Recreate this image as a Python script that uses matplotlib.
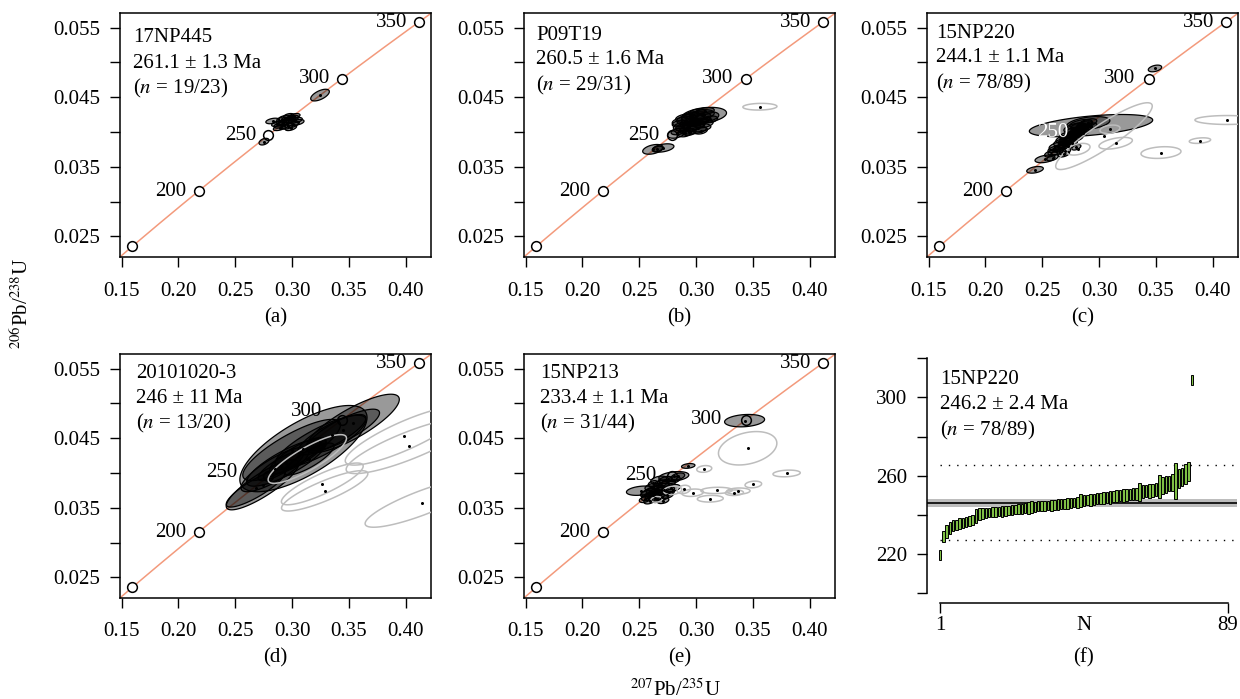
import numpy as np
import matplotlib
matplotlib.use('Agg')
import matplotlib.pyplot as plt
from matplotlib.patches import Polygon

plt.rcParams['font.family'] = ['Liberation Serif', 'DejaVu Serif']
plt.rcParams['mathtext.fontset'] = 'stix'

# concordia ages (Ma)
marker_ages = [150, 200, 250, 300, 350]
label_ages = [200, 250, 300, 350]
LAMBDA_238 = 1.55125e-10
LAMBDA_235 = 9.8485e-10

# ellipses: (207Pb/235U, half-width, 206Pb/238U, half-height, rho)
a_ok = [
    (0.3246, 0.0082, 0.04530, 0.00084, 0.6),
    (0.2753, 0.0044, 0.03861, 0.00048, 0.4),
    (0.2829, 0.0060, 0.04158, 0.00040, 0.4),
    (0.2900, 0.0060, 0.04100, 0.00045, 0.5),
    (0.2950, 0.0065, 0.04150, 0.00050, 0.5),
    (0.2980, 0.0055, 0.04180, 0.00045, 0.5),
    (0.3000, 0.0060, 0.04200, 0.00040, 0.4),
    (0.3030, 0.0060, 0.04170, 0.00040, 0.4),
    (0.2920, 0.0050, 0.04130, 0.00045, 0.5),
    (0.2960, 0.0050, 0.04080, 0.00040, 0.5),
    (0.3010, 0.0050, 0.04110, 0.00045, 0.5),
    (0.2890, 0.0055, 0.04060, 0.00040, 0.5),
    (0.2940, 0.0060, 0.04200, 0.00040, 0.4),
    (0.3050, 0.0055, 0.04140, 0.00040, 0.4),
    (0.2990, 0.0050, 0.04060, 0.00040, 0.5),
    (0.2970, 0.0045, 0.04230, 0.00035, 0.4),
    (0.3020, 0.0050, 0.04230, 0.00035, 0.4),
    (0.2910, 0.0045, 0.04180, 0.00035, 0.4),
    (0.2870, 0.0050, 0.04120, 0.00040, 0.5),
]
a_rej = []

b_ok = [
    (0.2620, 0.0090, 0.03750, 0.00070, 0.4),
    (0.2710, 0.0095, 0.03770, 0.00060, 0.4),
    (0.2660, 0.0045, 0.03755, 0.00040, 0.4),
    (0.2829, 0.0080, 0.03980, 0.00070, 0.4),
    (0.2850, 0.0070, 0.04010, 0.00050, 0.4),
    (0.3070, 0.0198, 0.04239, 0.00115, 0.3),
    (0.2950, 0.0120, 0.04180, 0.00080, 0.3),
    (0.2900, 0.0110, 0.04150, 0.00070, 0.3),
    (0.3000, 0.0130, 0.04200, 0.00090, 0.3),
    (0.3050, 0.0110, 0.04250, 0.00070, 0.3),
    (0.3100, 0.0100, 0.04220, 0.00070, 0.3),
    (0.2980, 0.0100, 0.04100, 0.00070, 0.3),
    (0.2930, 0.0110, 0.04070, 0.00070, 0.3),
    (0.3020, 0.0110, 0.04060, 0.00060, 0.3),
    (0.2880, 0.0080, 0.04080, 0.00060, 0.3),
    (0.2970, 0.0120, 0.04030, 0.00060, 0.3),
    (0.3060, 0.0090, 0.04120, 0.00060, 0.3),
    (0.2910, 0.0090, 0.04200, 0.00060, 0.3),
    (0.3030, 0.0080, 0.04150, 0.00050, 0.3),
    (0.2960, 0.0070, 0.04240, 0.00050, 0.3),
    (0.2860, 0.0070, 0.04120, 0.00050, 0.3),
    (0.3080, 0.0080, 0.04300, 0.00050, 0.3),
    (0.2990, 0.0060, 0.04120, 0.00045, 0.3),
    (0.2940, 0.0060, 0.04000, 0.00050, 0.3),
    (0.3120, 0.0070, 0.04180, 0.00050, 0.3),
    (0.3010, 0.0070, 0.04280, 0.00050, 0.3),
    (0.2900, 0.0060, 0.03980, 0.00050, 0.3),
    (0.3040, 0.0060, 0.04020, 0.00050, 0.3),
    (0.2970, 0.0050, 0.04160, 0.00040, 0.3),
]
b_rej = [
    (0.3562, 0.0150, 0.04363, 0.00048, 0.1),
]

c_ok = [
    (0.2929, 0.0543, 0.04091, 0.00160, 0.5),
    (0.2905, 0.0190, 0.04125, 0.00096, 0.4),
    (0.3492, 0.0059, 0.04913, 0.00048, 0.4),
    (0.2436, 0.0073, 0.03456, 0.00048, 0.4),
    (0.2524, 0.0088, 0.03613, 0.00055, 0.4),
    (0.2580, 0.0060, 0.03690, 0.00050, 0.5),
    (0.2620, 0.0070, 0.03720, 0.00055, 0.5),
    (0.2600, 0.0050, 0.03750, 0.00045, 0.5),
    (0.2650, 0.0060, 0.03760, 0.00050, 0.5),
    (0.2640, 0.0080, 0.03800, 0.00060, 0.5),
    (0.2680, 0.0070, 0.03790, 0.00050, 0.5),
    (0.2700, 0.0060, 0.03830, 0.00050, 0.5),
    (0.2660, 0.0060, 0.03850, 0.00050, 0.5),
    (0.2720, 0.0080, 0.03870, 0.00060, 0.5),
    (0.2690, 0.0070, 0.03900, 0.00055, 0.5),
    (0.2740, 0.0060, 0.03880, 0.00050, 0.5),
    (0.2750, 0.0090, 0.03930, 0.00060, 0.5),
    (0.2710, 0.0060, 0.03950, 0.00050, 0.5),
    (0.2770, 0.0070, 0.03960, 0.00050, 0.5),
    (0.2780, 0.0080, 0.03910, 0.00060, 0.5),
    (0.2800, 0.0070, 0.03990, 0.00050, 0.5),
    (0.2760, 0.0060, 0.04010, 0.00050, 0.5),
    (0.2820, 0.0080, 0.04020, 0.00060, 0.5),
    (0.2830, 0.0060, 0.03970, 0.00050, 0.5),
    (0.2850, 0.0070, 0.04060, 0.00050, 0.5),
    (0.2810, 0.0060, 0.04080, 0.00050, 0.5),
    (0.2870, 0.0070, 0.04100, 0.00060, 0.5),
    (0.2880, 0.0060, 0.04040, 0.00050, 0.5),
    (0.2900, 0.0080, 0.04130, 0.00060, 0.5),
    (0.2840, 0.0100, 0.04120, 0.00060, 0.5),
    (0.2920, 0.0060, 0.04080, 0.00050, 0.5),
    (0.2790, 0.0100, 0.04060, 0.00070, 0.5),
    (0.2730, 0.0050, 0.03800, 0.00045, 0.5),
    (0.2760, 0.0050, 0.03840, 0.00045, 0.5),
    (0.2800, 0.0040, 0.03780, 0.00040, 0.5),
    (0.2700, 0.0050, 0.03720, 0.00045, 0.5),
    (0.2590, 0.0050, 0.03630, 0.00045, 0.5),
    (0.2690, 0.0050, 0.03680, 0.00040, 0.5),
    (0.2860, 0.0050, 0.03990, 0.00045, 0.5),
]
c_rej = [
    (0.4129, 0.0285, 0.04172, 0.00064, 0.0),
    (0.3888, 0.0094, 0.03876, 0.00040, 0.3),
    (0.3545, 0.0176, 0.03704, 0.00084, 0.2),
    (0.3146, 0.0147, 0.03838, 0.00084, 0.5),
    (0.3043, 0.0425, 0.03940, 0.00480, 0.9),
    (0.2817, 0.0103, 0.03752, 0.00084, 0.4),
    (0.3096, 0.0088, 0.04039, 0.00060, 0.3),
]

d_ok = [
    (0.3533, 0.0411, 0.04712, 0.0042, 0.82),
    (0.2740, 0.0320, 0.03830, 0.0036, 0.85),
    (0.3100, 0.0560, 0.04350, 0.0062, 0.72),
    (0.2996, 0.0430, 0.04330, 0.0044, 0.82),
    (0.2950, 0.0350, 0.04150, 0.0034, 0.82),
    (0.3250, 0.0400, 0.04450, 0.0038, 0.82),
    (0.2850, 0.0300, 0.04050, 0.0032, 0.82),
    (0.3350, 0.0300, 0.04550, 0.0029, 0.82),
    (0.3050, 0.0250, 0.04250, 0.0026, 0.82),
    (0.2680, 0.0260, 0.03780, 0.0027, 0.85),
    (0.3450, 0.0320, 0.04617, 0.0030, 0.82),
    (0.2900, 0.0200, 0.04100, 0.0021, 0.82),
    (0.3150, 0.0220, 0.04200, 0.0023, 0.82),
]
d_rej = [
    (0.3988, 0.0520, 0.04533, 0.0042, 0.85),
    (0.4026, 0.0550, 0.04391, 0.0040, 0.85),
    (0.3266, 0.0360, 0.03843, 0.0030, 0.85),
    (0.3287, 0.0380, 0.03743, 0.0029, 0.85),
    (0.4143, 0.0500, 0.03570, 0.0035, 0.85),
    (0.3134, 0.0345, 0.04201, 0.0035, 0.85),
]

e_ok = [
    (0.3427, 0.0176, 0.04752, 0.00089, 0.2),
    (0.2931, 0.0059, 0.04101, 0.00034, 0.3),
    (0.2804, 0.0132, 0.03950, 0.00070, 0.3),
    (0.2512, 0.0125, 0.03745, 0.00067, 0.3),
    (0.2600, 0.0080, 0.03720, 0.00060, 0.4),
    (0.2650, 0.0090, 0.03760, 0.00060, 0.4),
    (0.2620, 0.0070, 0.03680, 0.00050, 0.4),
    (0.2680, 0.0080, 0.03700, 0.00055, 0.4),
    (0.2700, 0.0070, 0.03800, 0.00050, 0.4),
    (0.2580, 0.0060, 0.03650, 0.00050, 0.4),
    (0.2640, 0.0060, 0.03640, 0.00050, 0.4),
    (0.2720, 0.0090, 0.03750, 0.00060, 0.4),
    (0.2750, 0.0070, 0.03850, 0.00050, 0.4),
    (0.2690, 0.0060, 0.03850, 0.00050, 0.4),
    (0.2610, 0.0060, 0.03800, 0.00050, 0.4),
    (0.2560, 0.0050, 0.03700, 0.00045, 0.4),
    (0.2660, 0.0050, 0.03620, 0.00045, 0.4),
    (0.2780, 0.0080, 0.03780, 0.00055, 0.4),
    (0.2740, 0.0060, 0.03680, 0.00050, 0.4),
    (0.2630, 0.0050, 0.03720, 0.00045, 0.4),
    (0.2700, 0.0060, 0.03650, 0.00045, 0.4),
    (0.2800, 0.0060, 0.03900, 0.00050, 0.4),
    (0.2760, 0.0050, 0.03720, 0.00045, 0.4),
    (0.2590, 0.0050, 0.03600, 0.00045, 0.4),
    (0.2670, 0.0070, 0.03900, 0.00055, 0.4),
    (0.2730, 0.0060, 0.03900, 0.00050, 0.4),
    (0.2550, 0.0050, 0.03620, 0.00045, 0.4),
    (0.2840, 0.0060, 0.03950, 0.00050, 0.4),
    (0.2690, 0.0050, 0.03760, 0.00045, 0.4),
    (0.2710, 0.0050, 0.03600, 0.00040, 0.4),
    (0.2620, 0.0040, 0.03850, 0.00040, 0.4),
]
e_rej = [
    (0.3454, 0.0257, 0.04355, 0.00240, 0.3),
    (0.3797, 0.0120, 0.03993, 0.00048, 0.2),
    (0.3504, 0.0073, 0.03835, 0.00048, 0.2),
    (0.3181, 0.0139, 0.03749, 0.00045, 0.1),
    (0.3372, 0.0103, 0.03739, 0.00045, 0.1),
    (0.3337, 0.0080, 0.03716, 0.00040, 0.1),
    (0.3125, 0.0114, 0.03630, 0.00048, 0.1),
    (0.3072, 0.0066, 0.04058, 0.00048, 0.2),
    (0.2970, 0.0095, 0.03716, 0.00053, 0.2),
    (0.2891, 0.0059, 0.03763, 0.00060, 0.2),
    (0.2794, 0.0080, 0.03750, 0.00060, 0.2),
    (0.2653, 0.0050, 0.03620, 0.00040, 0.2),
]

sample_names = ['17NP445', 'P09T19', '15NP220', '20101020-3', '15NP213']
sample_ages = ['261.1 ± 1.3 Ma', '260.5 ± 1.6 Ma', '244.1 ± 1.1 Ma',
               '246 ± 11 Ma', '233.4 ± 1.1 Ma']
sample_n = ['19/23', '29/31', '78/89', '13/20', '31/44']
panel_tags = ['(a)', '(b)', '(c)', '(d)', '(e)', '(f)']

# panel (f): 15NP220 single-grain ages, sorted (Ma) and half error bars
f_age = [219.5, 229.0, 231.5, 233.5, 234.5, 235.0, 235.5, 236.0, 236.5, 237.0,
         237.5, 239.5, 240.5, 240.8, 241.0, 241.2, 241.4, 241.6, 241.8, 242.0,
         242.2, 242.4, 242.6, 242.8, 243.0, 243.2, 243.4, 243.6, 244.0, 244.2,
         244.4, 244.5, 244.6, 244.8, 245.0, 245.2, 245.4, 245.6, 245.8, 246.0,
         246.2, 246.4, 246.6, 247.3, 247.5, 247.6, 247.8, 248.0, 248.2, 248.4,
         248.6, 248.8, 249.0, 249.4, 249.6, 249.8, 250.0, 250.2, 250.4, 250.6,
         250.8, 251.7, 251.9, 252.1, 252.3, 252.5, 252.9, 254.5, 255.0, 255.5,
         256.0, 256.5, 257.5, 258.5, 259.5, 261.0, 262.0, 308.8]
f_err = [2.5, 3.0, 3.2, 3.0, 2.8, 2.6, 2.8, 2.6, 2.5, 2.7,
         2.6, 3.4, 3.0, 2.6, 2.5, 2.4, 2.6, 2.5, 2.4, 2.8,
         2.5, 2.4, 2.6, 2.5, 2.4, 2.6, 2.5, 3.0, 3.2, 2.6,
         2.5, 2.7, 2.6, 2.4, 2.8, 2.5, 3.0, 2.6, 2.5, 2.7,
         2.6, 2.4, 2.8, 3.2, 2.8, 2.6, 3.0, 2.7, 2.8, 2.6,
         3.0, 2.8, 3.2, 2.9, 3.0, 2.8, 3.4, 3.0, 2.9, 3.1,
         3.2, 4.8, 3.4, 3.0, 3.5, 3.2, 3.4, 6.0, 4.5, 4.2,
         4.0, 4.5, 9.2, 4.8, 4.5, 5.0, 4.8, 2.6]
f_mean = 246.2
f_band = 2.0
f_limits = [227.3, 265.3]
f_total = 89

W, H = 1240, 699
FS = 15
fig = plt.figure(figsize=(W / 100, H / 100), dpi=100)

# age-label offsets (points left, points up) per panel, where they differ
label_shift = [
    {},
    {250: (9.7, 0), 300: (9.4, 0)},
    {250: (5.4, 1.8), 300: (10.0, 0)},
    {250: (22.3, 2.5), 300: (14.4, 5.8)},
    {250: (11.9, 0.7), 300: (17.3, 0)},
]


def add_axes_px(left, top, w, h):
    return fig.add_axes([left / W, 1 - (top + h) / H, w / W, h / H])


def ellipse_xy(x, sx, y, sy, rho, n=120):
    t = np.linspace(0, 2 * np.pi, n)
    ex = x + sx * np.cos(t)
    ey = y + sy * (rho * np.cos(t) + np.sqrt(1 - rho ** 2) * np.sin(t))
    return np.column_stack([ex, ey])


def style_axis(ax, xpad=10.5, ypad=7):
    for s in ax.spines.values():
        s.set_linewidth(1.1)
    ax.tick_params(direction='out', length=7.5, width=1.0, labelsize=FS)
    ax.tick_params(axis='x', pad=xpad)
    ax.tick_params(axis='y', pad=ypad)


def concordia_panel(ax, ok, rej, name, age, n, text_dx, text_dy, shifts,
                    white250=False):
    t = np.linspace(100, 420, 400) * 1e6
    ax.plot(np.exp(LAMBDA_235 * t) - 1, np.exp(LAMBDA_238 * t) - 1,
            color='#f39a7c', lw=1.1, zorder=1)
    tm = np.array(marker_ages) * 1e6
    mx = np.exp(LAMBDA_235 * tm) - 1
    my = np.exp(LAMBDA_238 * tm) - 1
    ax.plot(mx, my, 'o', ms=7, mfc='white', mec='black', mew=1.1, zorder=2)
    for age_m, xx, yy in zip(marker_ages, mx, my):
        if age_m in label_ages:
            col = 'white' if (white250 and age_m == 250) else 'black'
            sx_, sy_ = shifts.get(age_m, (8.6, 0))
            ax.annotate(str(age_m), (xx, yy), xytext=(-sx_, sy_),
                        textcoords='offset points', ha='right', va='center',
                        fontsize=FS, color=col, zorder=6)
    for (x, sx, y, sy, r) in ok:
        ax.add_patch(Polygon(ellipse_xy(x, sx, y, sy, r), closed=True,
                             facecolor=(0, 0, 0, 0.4), edgecolor='black',
                             lw=0.9, zorder=3))
    for (x, sx, y, sy, r) in rej:
        ax.add_patch(Polygon(ellipse_xy(x, sx, y, sy, r), closed=True,
                             facecolor='none', edgecolor='#bdbdbd',
                             lw=1.1, zorder=4))
    pts = ok + rej
    ax.plot([p[0] for p in pts], [p[2] for p in pts], 'o', ms=2.2,
            color='black', mew=0, zorder=5)
    ax.set_xlim(0.1485, 0.4223)
    ax.set_ylim(0.0221, 0.0571)
    ax.set_xticks([0.15, 0.20, 0.25, 0.30, 0.35, 0.40])
    ax.set_xticklabels(['0.15', '0.20', '0.25', '0.30', '0.35', '0.40'])
    yt = [0.025, 0.030, 0.035, 0.040, 0.045, 0.050, 0.055]
    ax.set_yticks(yt)
    ax.set_yticklabels(['%.3f' % v if i % 2 == 0 else '' for i, v in enumerate(yt)])
    style_axis(ax)
    bb_w, bb_h = 311.0, 243.5
    for k, s in enumerate([name, age, '($n$ = %s)' % n]):
        ax.text(text_dx / bb_w, 1 - (text_dy + 25 * k) / bb_h, s,
                transform=ax.transAxes, ha='left', va='center', fontsize=FS,
                zorder=7)


layout = [(120, 13, 13, 25), (524, 13, 12, 22), (927, 13, 9, 20),
          (120, 354, 16, 19.5), (524, 354, 16, 19.5)]
ok_sets = [a_ok, b_ok, c_ok, d_ok, e_ok]
rej_sets = [a_rej, b_rej, c_rej, d_rej, e_rej]

for i in range(5):
    left, top, dx, dy = layout[i]
    ax = add_axes_px(left, top, 311, 243.5)
    concordia_panel(ax, ok_sets[i], rej_sets[i], sample_names[i],
                    sample_ages[i], sample_n[i], dx, dy, label_shift[i],
                    white250=(i == 2))
    ty = 318 if top < 100 else 658
    fig.text((left + 155.5) / W, 1 - ty / H, panel_tags[i], ha='center',
             va='center', fontsize=FS)

# panel (f)
axf = add_axes_px(927, 354, 310, 243)
N = np.arange(1, len(f_age) + 1)
axf.axhspan(f_mean - f_band, f_mean + f_band, color='#bdbdbd', lw=0, zorder=1)
axf.axhline(f_mean, color='black', lw=1.2, zorder=2)
axf.hlines(f_limits, 1, 91, colors='black', lw=1.0,
           linestyles=[(0, (1, 5))], zorder=2)
lo = np.array(f_age) - np.array(f_err)
axf.bar(N, 2 * np.array(f_err), bottom=lo, width=0.8, color='#7fbf45',
        edgecolor='black', lw=0.7, zorder=3)
axf.set_xlim(-2.97, 91.75)
axf.set_ylim(198.2, 322.1)
axf.spines['top'].set_visible(False)
axf.spines['right'].set_visible(False)
axf.spines['bottom'].set_position(('outward', 4.5))
axf.spines['bottom'].set_bounds(1, f_total)
axf.spines['left'].set_bounds(200, 320)
yt = [200, 220, 240, 260, 280, 300, 320]
axf.set_yticks(yt)
axf.set_yticklabels(['' if v in (200, 240, 280, 320) else str(v) for v in yt])
axf.set_xticks([1, 45, f_total])
axf.set_xticklabels(['1', 'N', str(f_total)])
style_axis(axf, xpad=2, ypad=7)
axf.xaxis.get_major_ticks()[1].tick1line.set_visible(False)
for k, s in enumerate(['15NP220', '246.2 ± 2.4 Ma', '($n$ = 78/89)']):
    axf.text(13 / 310, 1 - (25 + 25.5 * k) / 243, s, transform=axf.transAxes,
             ha='left', va='center', fontsize=FS)
fig.text((1083) / W, 1 - 658 / H, panel_tags[5], ha='center', va='center',
         fontsize=FS)

fig.text(22 / W, 1 - 304 / H, r'$^{206}$Pb/$^{238}$U', rotation=90,
         ha='center', va='center', fontsize=FS)
fig.text(675 / W, 1 - 696 / H, r'$^{207}$Pb/$^{235}$U', ha='center',
         va='baseline', fontsize=FS)

fig.savefig('out.png', dpi=100)
